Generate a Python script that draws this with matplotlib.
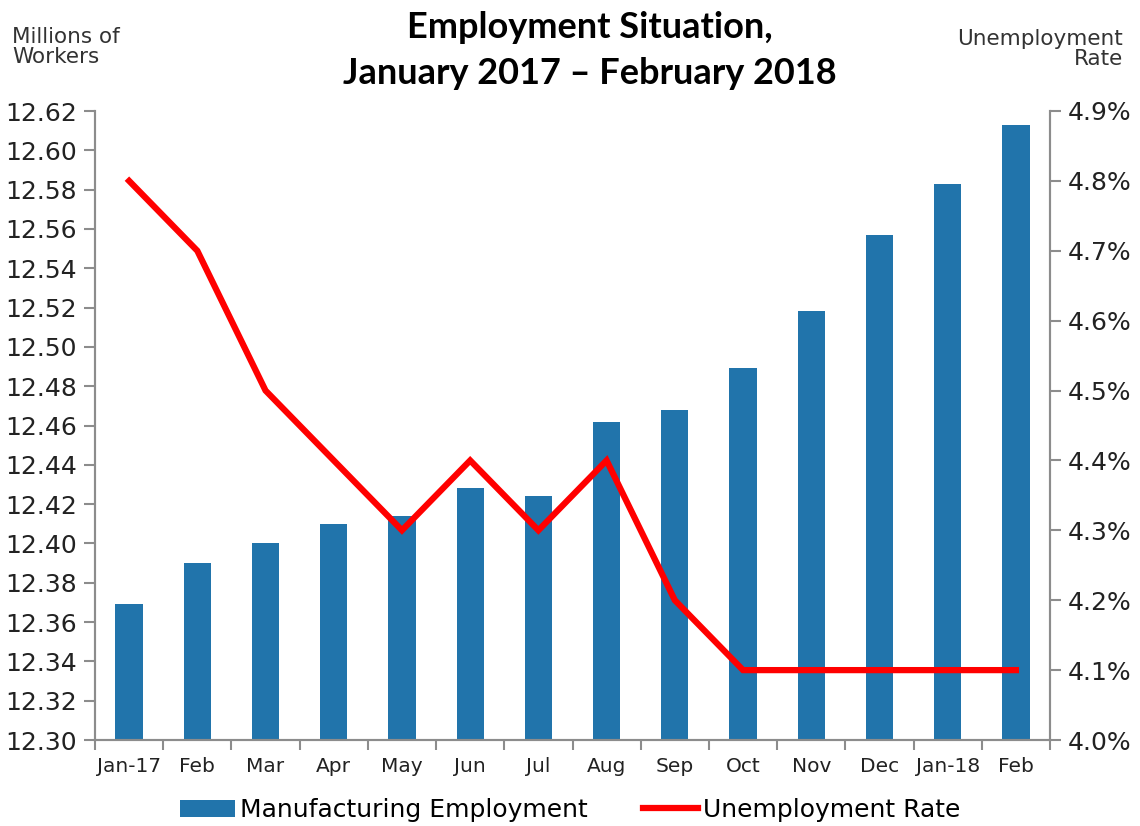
import matplotlib
matplotlib.use("Agg")
import matplotlib.pyplot as plt
import numpy as np
from matplotlib.ticker import FuncFormatter, FixedLocator

months = ["Jan-17", "Feb", "Mar", "Apr", "May", "Jun", "Jul", "Aug",
          "Sep", "Oct", "Nov", "Dec", "Jan-18", "Feb"]
manufacturing = [12.369, 12.390, 12.400, 12.410, 12.414, 12.428, 12.424,
                 12.462, 12.468, 12.489, 12.518, 12.557, 12.583, 12.613]
unemployment = [4.8, 4.7, 4.5, 4.4, 4.3, 4.4, 4.3, 4.4, 4.2, 4.1, 4.1, 4.1, 4.1, 4.1]
left_ticks = [12.30 + 0.02 * i for i in range(17)]
right_ticks = [4.0 + 0.1 * i for i in range(10)]

plt.rcParams['font.family'] = ['DejaVu Sans']
fig = plt.figure(figsize=(11.4, 8.26), dpi=100)
ax = fig.add_axes([95/1140, 1-740/826, (1050-95)/1140, (740-111)/826])
ax2 = ax.twinx()

x = np.arange(len(months))
bar_color = "#2174AB"
ax.bar(x, manufacturing, width=0.4, color=bar_color, label="Manufacturing Employment", zorder=2)
ax.set_ylim(12.30, 12.62)
ax.set_xlim(-0.5, len(months) - 0.5)
ax.set_yticks(left_ticks)
ax.yaxis.set_major_formatter(FuncFormatter(lambda v, p: f"{v:.2f}"))

ax2.plot(x, unemployment, color="#FF0000", linewidth=4.5, label="Unemployment Rate",
         solid_joinstyle="miter", zorder=3)
ax2.set_ylim(4.0, 4.9)
ax2.set_yticks(right_ticks)
ax2.yaxis.set_major_formatter(FuncFormatter(lambda v, p: f"{v:.1f}%"))

gray = "#8C8C8C"
for a in (ax, ax2):
    a.spines['top'].set_visible(False)
    for s in ('left', 'right', 'bottom'):
        a.spines[s].set_color(gray)
        a.spines[s].set_linewidth(1.5)

ax.set_xticks(x)
ax.set_xticklabels(months, fontsize=14.5, color="#222222")
ax.tick_params(axis='x', length=0, pad=12)
ax.xaxis.set_minor_locator(FixedLocator(np.arange(-0.5, len(months), 1.0)))
ax.tick_params(axis='x', which='minor', length=7, width=1.5, color=gray, direction='out')
ax.tick_params(axis='y', length=8, width=1.5, color=gray, labelsize=18, labelcolor="#222222", pad=5)
ax2.tick_params(axis='y', length=8, width=1.5, color=gray, labelsize=18, labelcolor="#222222", pad=5)

fig.text(590/1140, 1-27/826, "Employment Situation,", ha='center', va='center',
         fontsize=26, fontweight='bold', family=['Lato', 'DejaVu Sans'])
fig.text(590/1140, 1-74/826, "January 2017 \u2013 February 2018", ha='center', va='center',
         fontsize=26, fontweight='bold', family=['Lato', 'DejaVu Sans'])
fig.text(12/1140, 1-47/826, "Millions of\nWorkers", ha='left', va='center',
         fontsize=15.5, color="#333333", linespacing=1.05)
fig.text(1123/1140, 1-49/826, "Unemployment\nRate", ha='right', va='center',
         fontsize=15.5, color="#333333", linespacing=1.05, multialignment='right')

h1, l1 = ax.get_legend_handles_labels()
h2, l2 = ax2.get_legend_handles_labels()
fig.legend(h1 + h2, l1 + l2, loc='center', bbox_to_anchor=(570/1140, 1-810/826),
           ncol=2, frameon=False, fontsize=18, handlelength=2.2, handletextpad=0.2,
           columnspacing=2.2)

fig.savefig("out.png", dpi=100)
